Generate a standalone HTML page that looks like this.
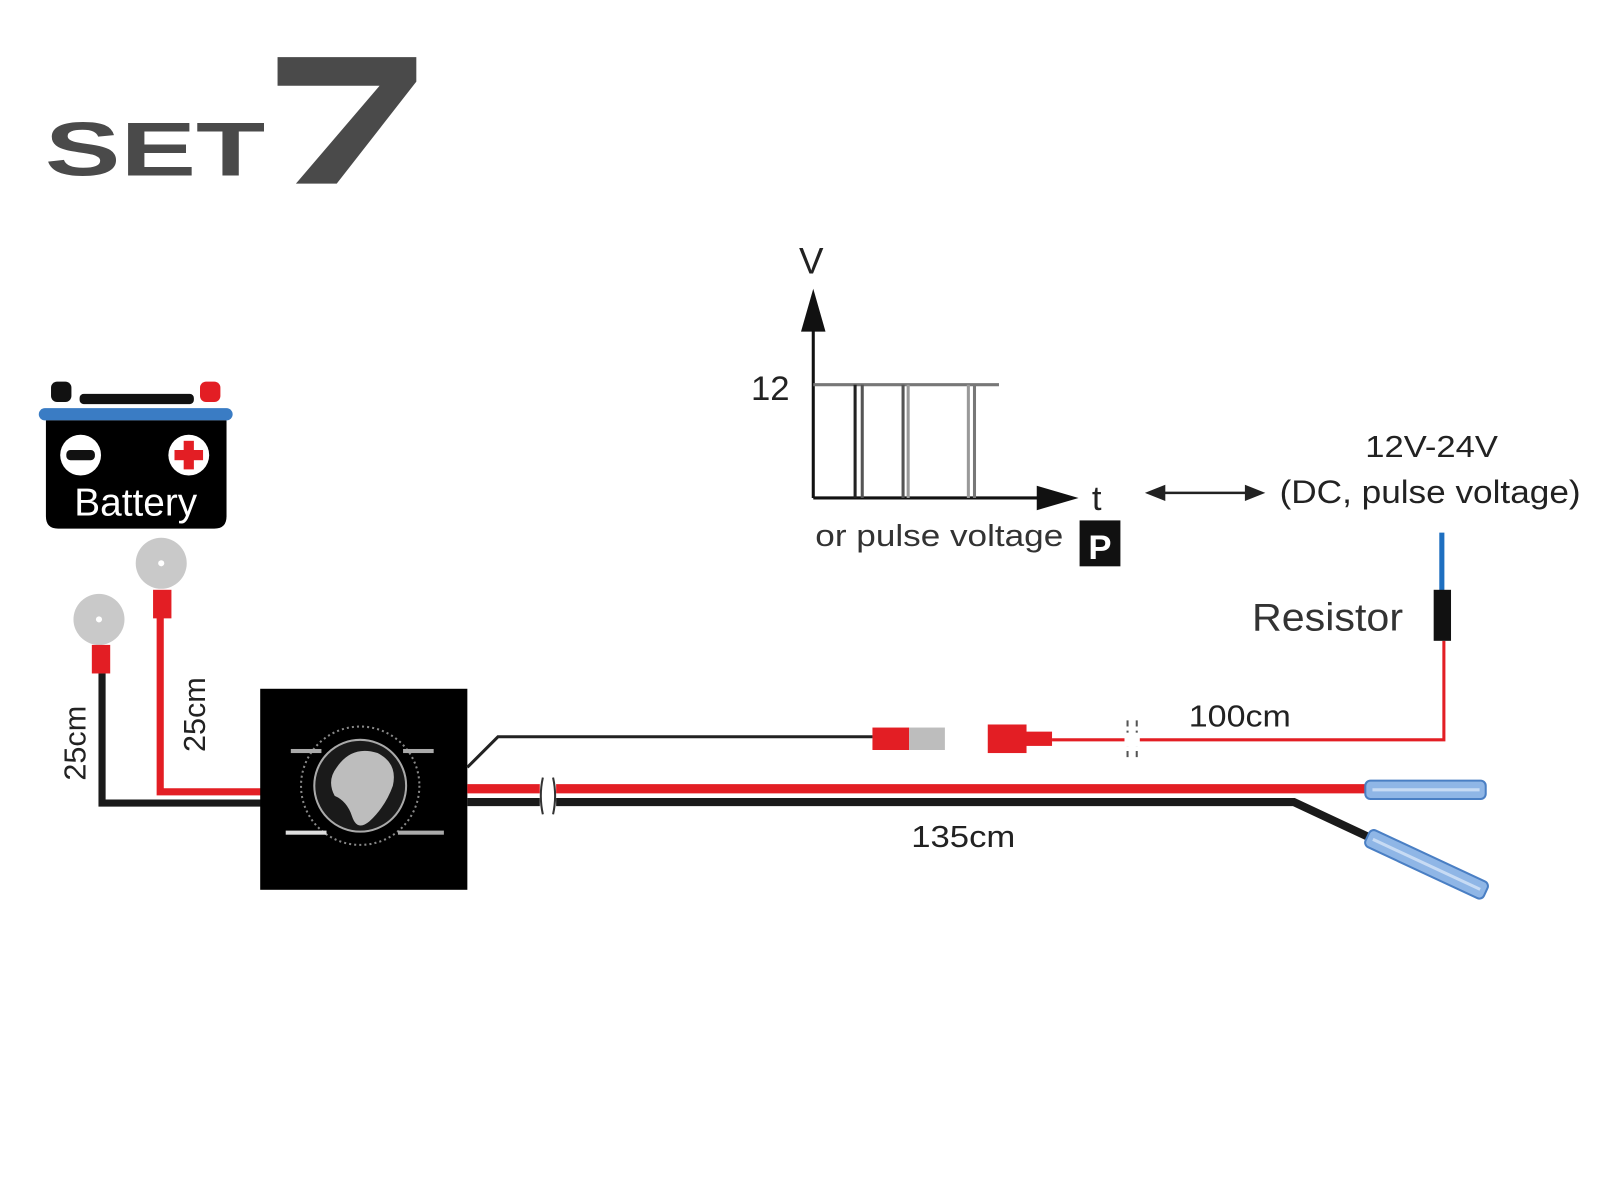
<!DOCTYPE html>
<html><head><meta charset="utf-8"><style>html,body{margin:0;padding:0;background:#fff;}svg{display:block}</style></head>
<body>
<svg width="1600" height="1200" viewBox="0 0 1568 1176" xmlns="http://www.w3.org/2000/svg" font-family="Liberation Sans, Arial, sans-serif">
<rect width="1568" height="1176" fill="#fff"/>
<!-- Title -->
<text x="44" y="172" font-size="88" font-weight="bold" fill="#4a4a4a" textLength="216" lengthAdjust="spacingAndGlyphs" transform="scale(1,0.85)" style="transform-origin:0 172px">SET</text>
<path d="M272 56 L408 56 L408 80 L330 180 L290 180 L372 84 L272 84 Z" fill="#4a4a4a"/>

<!-- Battery -->
<rect x="50" y="374" width="20" height="20" rx="6" fill="#111"/>
<rect x="196" y="374" width="20" height="20" rx="6" fill="#e31e24"/>
<rect x="78" y="386" width="112" height="10" rx="4" fill="#111"/>
<rect x="38" y="400" width="190" height="12" rx="6" fill="#3a7cc4"/>
<path d="M45 412 H222 V506 Q222 518 210 518 H57 Q45 518 45 506 Z" fill="#000"/>
<circle cx="79" cy="446" r="20" fill="#fff"/>
<rect x="65" y="441" width="28" height="10" rx="4" fill="#111"/>
<circle cx="185" cy="446" r="20" fill="#fff"/>
<rect x="180" y="432" width="10" height="28" fill="#e31e24"/>
<rect x="171" y="441" width="28" height="10" fill="#e31e24"/>
<text x="133" y="505" font-size="38" fill="#fff" text-anchor="middle">Battery</text>

<!-- Ring terminals -->
<circle cx="158" cy="552" r="25" fill="#c9c9c9"/><circle cx="158" cy="552" r="3" fill="#fff"/>
<rect x="150" y="578" width="18" height="28" fill="#e31e24"/>
<circle cx="97" cy="607" r="25" fill="#c9c9c9"/><circle cx="97" cy="607" r="3" fill="#fff"/>
<rect x="90" y="632" width="18" height="28" fill="#e31e24"/>
<polyline points="157,605 157,776 260,776" fill="none" stroke="#e31e24" stroke-width="7"/>
<polyline points="100,660 100,787 260,787" fill="none" stroke="#1a1a1a" stroke-width="7"/>
<text transform="translate(84,765) rotate(-90)" font-size="30" fill="#222">25cm</text>
<text transform="translate(201,737) rotate(-90)" font-size="30" fill="#222">25cm</text>

<!-- Box -->
<rect x="255" y="675" width="203" height="197" fill="#000"/>
<circle cx="353" cy="770" r="58" fill="none" stroke="#888" stroke-width="2" stroke-dasharray="2 3"/>
<circle cx="353" cy="770" r="45" fill="#1a1a1a" stroke="#aaa" stroke-width="2"/>
<path d="M330 752 Q345 730 370 738 Q390 748 385 770 Q378 790 362 805 Q350 815 345 800 Q340 785 328 780 Q320 765 330 752 Z" fill="#bdbdbd"/>
<rect x="285" y="734" width="30" height="4" fill="#aaa"/>
<rect x="395" y="734" width="30" height="4" fill="#aaa"/>
<rect x="280" y="814" width="40" height="4" fill="#ddd"/>
<rect x="390" y="814" width="45" height="4" fill="#aaa"/>

<!-- Thin black wire to connector -->
<polyline points="458,752 488,722 855,722" fill="none" stroke="#222" stroke-width="3"/>
<rect x="855" y="713" width="36" height="22" fill="#e31e24"/>
<rect x="891" y="713" width="35" height="22" fill="#bdbdbd"/>
<rect x="968" y="710" width="38" height="28" fill="#e31e24"/>
<rect x="1005" y="717" width="26" height="14" fill="#e31e24"/>
<polyline points="1031,725 1415,725 1415,628" fill="none" stroke="#e31e24" stroke-width="3"/>
<line x1="1105" y1="706" x2="1105" y2="746" stroke="#555" stroke-width="2" stroke-dasharray="6 4"/>
<line x1="1114" y1="706" x2="1114" y2="746" stroke="#555" stroke-width="2" stroke-dasharray="6 4"/>
<rect x="1102" y="718" width="15" height="14" fill="#fff"/>
<text x="1165" y="712" font-size="30" fill="#222" textLength="100" lengthAdjust="spacingAndGlyphs">100cm</text>

<!-- Resistor -->
<line x1="1413" y1="522" x2="1413" y2="580" stroke="#1e6fc0" stroke-width="5"/>
<rect x="1405" y="578" width="17" height="50" fill="#111"/>
<text x="1227" y="618" font-size="38" fill="#333" textLength="148" lengthAdjust="spacingAndGlyphs">Resistor</text>

<!-- Main wires -->
<line x1="458" y1="773" x2="1342" y2="773" stroke="#e31e24" stroke-width="9"/>
<polyline points="458,786 1268,786 1345,822" fill="none" stroke="#1a1a1a" stroke-width="8"/>
<rect x="529" y="762" width="16" height="36" fill="#fff"/>
<path d="M532 762 Q528 780 532 798 M542 762 Q546 780 542 798" fill="none" stroke="#333" stroke-width="2"/>
<text x="893" y="830" font-size="30" fill="#222" textLength="102" lengthAdjust="spacingAndGlyphs">135cm</text>
<!-- blue connectors -->
<rect x="1338" y="765" width="118" height="18" rx="5" fill="#8fb6e6" stroke="#4a7fc4" stroke-width="2"/>
<line x1="1345" y1="774" x2="1450" y2="774" stroke="#c7dbf4" stroke-width="3"/>
<g transform="translate(1340,820) rotate(25)">
<rect x="0" y="-9" width="128" height="18" rx="5" fill="#8fb6e6" stroke="#4a7fc4" stroke-width="2"/>
<line x1="6" y1="0" x2="122" y2="0" stroke="#c7dbf4" stroke-width="3"/>
</g>

<!-- Graph -->
<line x1="797" y1="488" x2="797" y2="320" stroke="#111" stroke-width="3"/>
<polygon points="797,283 785,325 809,325" fill="#111"/>
<text x="783" y="268" font-size="36" fill="#222">V</text>
<text x="736" y="392" font-size="34" fill="#222">12</text>
<line x1="797" y1="377" x2="979" y2="377" stroke="#777" stroke-width="3"/>
<line x1="797" y1="488" x2="1020" y2="488" stroke="#111" stroke-width="3"/>
<polygon points="1057,488 1016,476 1016,500" fill="#111"/>
<g stroke-width="3">
<line x1="838" y1="377" x2="838" y2="488" stroke="#222"/>
<line x1="845" y1="377" x2="845" y2="488" stroke="#555"/>
<line x1="885" y1="377" x2="885" y2="488" stroke="#555"/>
<line x1="890" y1="377" x2="890" y2="488" stroke="#999"/>
<line x1="949" y1="377" x2="949" y2="488" stroke="#999"/>
<line x1="955" y1="377" x2="955" y2="488" stroke="#777"/>
</g>
<text x="1070" y="500" font-size="34" fill="#222">t</text>
<text x="799" y="535" font-size="30" fill="#333" textLength="243" lengthAdjust="spacingAndGlyphs">or pulse voltage</text>
<rect x="1058" y="510" width="40" height="45" fill="#111"/>
<text x="1078" y="548" font-size="34" font-weight="bold" fill="#fff" text-anchor="middle">P</text>
<line x1="1138" y1="483" x2="1225" y2="483" stroke="#222" stroke-width="2.5"/>
<polygon points="1122,483 1142,475 1142,491" fill="#222"/>
<polygon points="1240,483 1220,475 1220,491" fill="#222"/>
<text x="1338" y="448" font-size="30" fill="#222" textLength="130" lengthAdjust="spacingAndGlyphs">12V-24V</text>
<text x="1254" y="493" font-size="32" fill="#222" textLength="295" lengthAdjust="spacingAndGlyphs">(DC, pulse voltage)</text>
</svg>
</body></html>
